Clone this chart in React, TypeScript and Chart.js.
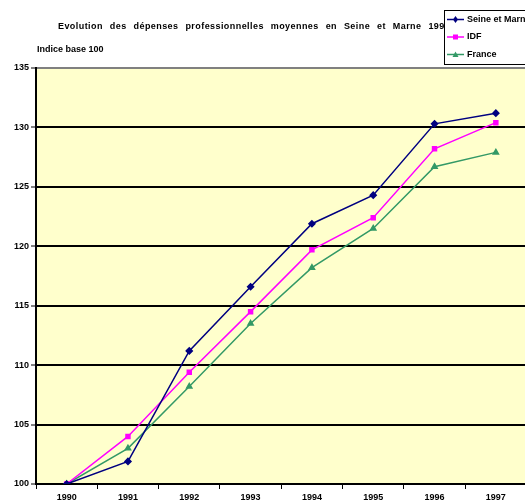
import React, { useEffect, useRef } from "react";
import { Chart, registerables } from "chart.js";

Chart.register(...registerables);

const years = ["1990", "1991", "1992", "1993", "1994", "1995", "1996", "1997"];
const seineEtMarne = [100, 101.9, 111.2, 116.6, 121.9, 124.3, 130.3, 131.2];
const idf = [100, 104.0, 109.4, 114.5, 119.7, 122.4, 128.2, 130.4];
const france = [100, 103.0, 108.2, 113.5, 118.2, 121.5, 126.7, 127.9];
const titleText = "Evolution des dépenses professionnelles moyennes en Seine et Marne 1990-1997";
const subtitleText = "Indice base 100";

const FONT = '"Liberation Sans", Arial, sans-serif';

export default function App() {
  const ref = useRef<HTMLCanvasElement | null>(null);
  useEffect(() => {
    document.body.style.margin = "0";
    document.body.style.overflow = "hidden";
    const bgPlugin = {
      id: "bg",
      beforeDraw(chart: any) {
        const { ctx, chartArea } = chart;
        ctx.save();
        ctx.fillStyle = "#FFFFCC";
        ctx.fillRect(chartArea.left, chartArea.top, chartArea.right - chartArea.left, chartArea.bottom - chartArea.top);
        ctx.restore();
      },
      afterDraw(chart: any) {
        const { ctx } = chart;
        ctx.save();
        ctx.fillStyle = "#000";
        ctx.textBaseline = "middle";
        ctx.font = `bold 9px ${FONT}`;
        (ctx as any).wordSpacing = "4px";
        (ctx as any).letterSpacing = "0px";
        const prefix = titleText.slice(0, titleText.indexOf("1990") + 3);
        const w0 = ctx.measureText(prefix).width;
        const ls = Math.max(0, (387 - w0) / prefix.length);
        (ctx as any).letterSpacing = `${ls.toFixed(2)}px`;
        ctx.fillText(titleText, 58, 27);
        (ctx as any).letterSpacing = "0px";
        (ctx as any).wordSpacing = "0px";
        ctx.fillText(subtitleText, 37, 50);
        // legend box
        const bx = 444, by = 10, bw = 100, bh = 54;
        ctx.fillStyle = "#fff";
        ctx.fillRect(bx, by, bw, bh);
        ctx.strokeStyle = "#000";
        ctx.lineWidth = 1;
        ctx.strokeRect(bx + 0.5, by + 0.5, bw, bh);
        chart.data.datasets.forEach((ds: any, i: number) => {
          const y = by + 9.5 + i * 17.5;
          ctx.strokeStyle = ds.borderColor;
          ctx.lineWidth = 1.5;
          ctx.beginPath();
          ctx.moveTo(bx + 3, y);
          ctx.lineTo(bx + 20, y);
          ctx.stroke();
          ctx.fillStyle = ds.borderColor;
          const cx = bx + 11.5;
          ctx.beginPath();
          if (ds.pointStyle === "rectRot") {
            ctx.moveTo(cx, y - 3.5); ctx.lineTo(cx + 2.5, y); ctx.lineTo(cx, y + 3.5); ctx.lineTo(cx - 2.5, y);
          } else if (ds.pointStyle === "rect") {
            ctx.rect(cx - 2.5, y - 2.5, 5, 5);
          } else {
            ctx.moveTo(cx, y - 3); ctx.lineTo(cx + 3, y + 2.5); ctx.lineTo(cx - 3, y + 2.5);
          }
          ctx.closePath();
          ctx.fill();
          ctx.fillStyle = "#000";
          ctx.fillText(ds.label, bx + 23, y);
        });
        ctx.restore();
      },
    };
    const chart = new Chart(ref.current as HTMLCanvasElement, {
      type: "line",
      data: {
        labels: years,
        datasets: [
          { label: "Seine et Marne", data: seineEtMarne, borderColor: "#000080", backgroundColor: "#000080", pointStyle: "rectRot", pointRadius: 3, borderWidth: 1.5 },
          { label: "IDF", data: idf, borderColor: "#FF00FF", backgroundColor: "#FF00FF", pointStyle: "rect", pointRadius: 2.8, borderWidth: 1.5 },
          { label: "France", data: france, borderColor: "#339966", backgroundColor: "#339966", pointStyle: "triangle", pointRadius: 3, borderWidth: 1.5 },
        ],
      },
      options: {
        animation: false,
        responsive: false,
        layout: { padding: { top: 68, right: 2, left: 0, bottom: 0 } },
        plugins: { legend: { display: false }, title: { display: false }, tooltip: { enabled: false } },
        elements: { line: { tension: 0 } },
        scales: {
          x: {
            offset: true,
            grid: { offset: true, drawOnChartArea: false, drawTicks: true, tickLength: 5, color: "#000", lineWidth: 1 },
            border: { display: true, color: "#000", width: 2 },
            ticks: { color: "#000", font: { family: FONT, size: 9, weight: "bold" }, padding: 3, maxRotation: 0, autoSkip: false },
            afterFit: (s: any) => { s.height = 20; },
          },
          y: {
            min: 100,
            max: 135,
            ticks: { stepSize: 5, color: "#000", font: { family: FONT, size: 9, weight: "bold" }, padding: 2 },
            grid: {
              color: (c: any) => (c.tick && c.tick.value === 135 ? "#808080" : "#000"),
              lineWidth: 2,
              tickLength: 5,
              tickColor: "#000",
              tickWidth: 1,
            },
            border: { display: true, color: "#000", width: 2 },
            afterFit: (s: any) => { s.width = 36; },
          },
        },
      },
      plugins: [bgPlugin],
    } as any);
    return () => chart.destroy();
  }, []);
  return <canvas ref={ref} width={532} height={504} style={{ display: "block" }} />;
}
